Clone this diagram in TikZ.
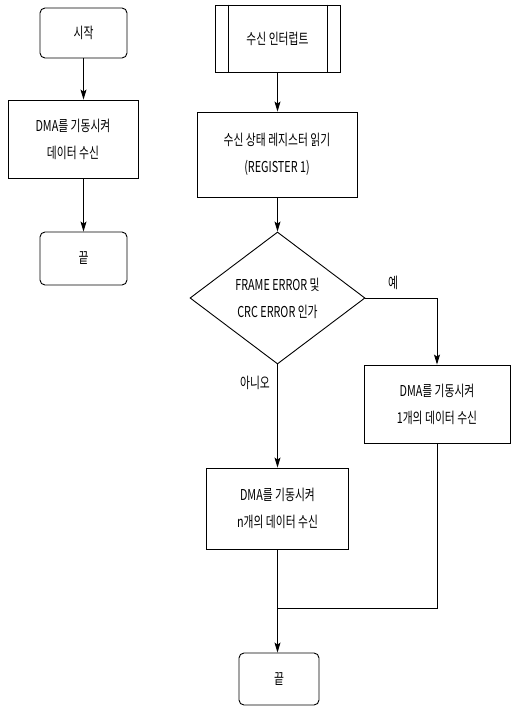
\documentclass[tikz,border=0pt]{standalone}
\usepackage{fontspec}
\setmainfont[FakeStretch=0.72]{Noto Sans CJK KR}
\usetikzlibrary{shapes.geometric,arrows.meta}
\begin{document}
\begin{tikzpicture}[x=1pt,y=-1pt,
  every node/.style={font=\fontsize{15}{27}\selectfont, align=center, inner sep=0pt},
  box/.style={draw, line width=0.9pt},
  term/.style={draw, line width=0.9pt, rounded corners=5pt},
  dec/.style={draw, line width=0.9pt, diamond},
  lbl/.style={font=\fontsize{15}{17}\selectfont},
  arr/.style={line width=0.9pt, -{Stealth[length=10pt,width=6pt,inset=2pt]}},
  ln/.style={line width=0.9pt}]
\useasboundingbox (0,0) rectangle (511,707);
% left flow
\node[term, minimum width=87pt, minimum height=50pt] (start) at (83.5,33) {시작};
\node[box, minimum width=130pt, minimum height=78pt] (dmaA) at (73,139) {DMA를 기동시켜\\데이터 수신};
\node[term, minimum width=87pt, minimum height=53pt] (endA) at (83.5,258.5) {끝};
\draw[arr] (start.south) -- (start.south |- dmaA.north);
\draw[arr] (start.south |- dmaA.south) -- (endA.north);
% right flow
\node[box, minimum width=125pt, minimum height=67pt] (intr) at (277.5,38.5) {수신 인터럽트};
\draw[ln] ([xshift=14pt]intr.north west) -- ([xshift=14pt]intr.south west);
\draw[ln] ([xshift=-13pt]intr.north east) -- ([xshift=-13pt]intr.south east);
\node[box, minimum width=160pt, minimum height=85pt] (rreg) at (277,154.5) {수신 상태 레지스터 읽기\\(REGISTER 1)};
\node[dec, minimum width=175pt, minimum height=132pt] (chk) at (277.5,298) {FRAME ERROR 및\\CRC ERROR 인가};
\node[box, minimum width=146pt, minimum height=78pt] (dmaOne) at (437,404) {DMA를 기동시켜\\1개의 데이터 수신};
\node[box, minimum width=142pt, minimum height=81pt] (dmaN) at (277.5,508.5) {DMA를 기동시켜\\n개의 데이터 수신};
\node[term, minimum width=80pt, minimum height=52pt] (endB) at (279,679) {끝};
\node[lbl] (yes) at (393,283) {예};
\node[lbl] (no) at (255,383) {아니오};
\coordinate (j) at (277.5,608);
\draw[arr] (intr.south) -- (intr.south |- rreg.north);
\draw[arr] (chk.north |- rreg.south) -- (chk.north);
\draw[arr] (chk.east) -| (dmaOne.north);
\draw[arr] (chk.south) -- (dmaN.north);
\draw[ln] (dmaOne.south) |- (j);
\draw[arr] (dmaN.south) -- (j |- endB.north);
\end{tikzpicture}
\end{document}
